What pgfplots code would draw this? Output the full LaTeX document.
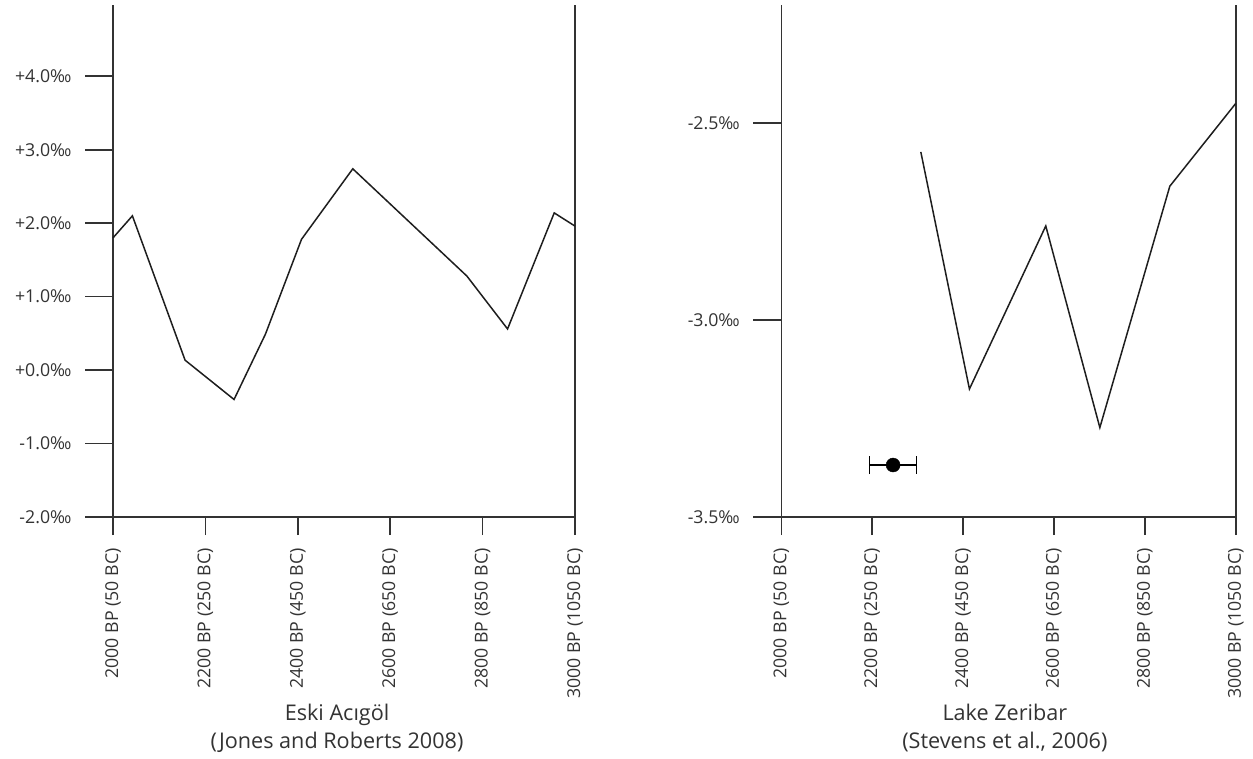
\documentclass[border=0pt]{standalone}
\usepackage{fontspec}
\setmainfont{Open Sans}
\usepackage{pgfplots}
\usepackage{pgfplotstable}
\pgfplotsset{compat=1.18}

\definecolor{axisgray}{HTML}{333333}
\definecolor{linegray}{HTML}{1E1E1E}

\pgfplotstableread{
x y
2000 1.80
2042 2.10
2156 0.135
2262 -0.40
2330 0.49
2408 1.78
2519 2.74
2766 1.28
2854 0.56
2955 2.14
3000 1.96
}\eski

\pgfplotstableread{
x y
2307 -2.573
2414 -3.175
2582 -2.761
2701 -3.273
2855 -2.660
3000 -2.450
}\zeribar

\begin{document}
\begin{tikzpicture}[x=1bp,y=1bp]
\path[use as bounding box] (0,0) rectangle (1253,-759);
\pgfplotsset{
  myaxis/.style={
    scale only axis,
    height=512bp,
    axis x line*=bottom,
    axis y line*=box,
    xtick pos=bottom,
    ytick pos=left,
    tick align=outside,
    axis line style={axisgray, line width=1.6bp, -},
    major tick length=28bp,
    xtick style={axisgray, line width=1.6bp, /pgfplots/major tick length=18bp},
    ytick style={axisgray, line width=1.6bp},
    xmin=2000, xmax=3000,
    xtick={2000,2200,2400,2600,2800,3000},
    xticklabels={2000 BP (50 BC), 2200 BP (250 BC), 2400 BP (450 BC), 2600 BP (650 BC), 2800 BP (850 BC), 3000 BP (1050 BC)},
    xticklabel style={rotate=90, anchor=east, font=\fontsize{17.8}{20}\selectfont, text=axisgray, xshift=0bp},
    yticklabel style={anchor=east, font=\fontsize{17.8}{20}\selectfont, text=axisgray, xshift=-10bp},
    xlabel style={align=center, font=\fontsize{21.7}{28}\selectfont, text=axisgray, anchor=north},
    clip=false,
  }
}
\begin{axis}[myaxis,
  at={(113bp,-517bp)}, anchor=south west,
  width=462bp,
  ymin=-2, ymax=4.97,
  ytick={-2,-1,0,1,2,3,4},
  yticklabels={-2.0‰,-1.0‰,+0.0‰,+1.0‰,+2.0‰,+3.0‰,+4.0‰},
  xlabel={Eski Acıgöl\\(Jones and Roberts 2008)},
  xlabel style={at={(axis description cs:0.485,0)}, yshift=-184bp},
]
\addplot[linegray, line width=1.5bp, mark=none] table {\eski};
\end{axis}

\begin{axis}[myaxis,
  at={(781.3bp,-517bp)}, anchor=south west,
  width=454.4bp,
  ymin=-3.5, ymax=-2.2,
  ytick={-3.5,-3.0,-2.5},
  yticklabels={-3.5‰,-3.0‰,-2.5‰},
  xlabel={Lake Zeribar\\(Stevens et al., 2006)},
  xlabel style={at={(axis description cs:0.492,0)}, yshift=-184bp},
]
\addplot[linegray, line width=1.5bp, mark=none] table {\zeribar};
\addplot[black, only marks, mark=*, mark size=7bp,
  error bars/.cd, x dir=both, x explicit,
  error bar style={line width=1.5bp, black},
  error mark options={rotate=90, mark size=9bp, line width=1.5bp, black}]
  coordinates {(2246,-3.368) +- (52,0)};
\end{axis}
\end{tikzpicture}
\end{document}
